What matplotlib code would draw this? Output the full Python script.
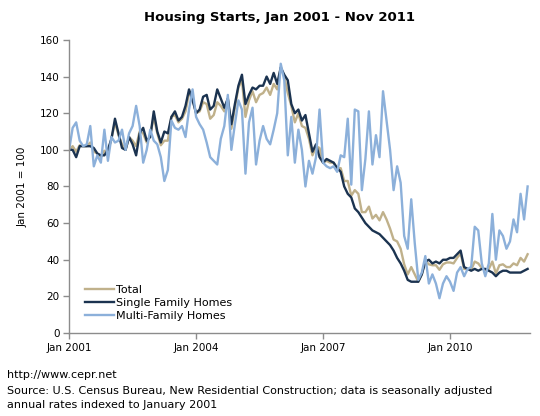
import matplotlib
matplotlib.use('agg')
import matplotlib.pyplot as plt
import numpy as np

# monthly index values, Jan 2001 .. Nov 2011 (Jan 2001 = 100)
single_family = [
    100, 100, 96, 102, 102, 102, 102, 101, 98, 97, 97, 100,      # 2001
    106, 117, 109, 101, 100, 107, 103, 97, 109, 112, 105, 107,   # 2002
    121, 110, 104, 110, 109, 118, 121, 116, 118, 124, 133, 127,  # 2003
    120, 122, 129, 130, 122, 124, 133, 128, 123, 128, 114, 125,  # 2004
    135, 141, 125, 130, 134, 133, 135, 135, 140, 136, 142, 136,  # 2005
    145, 141, 138, 125, 120, 122, 116, 119, 109, 99, 103, 96,    # 2006
    93, 95, 94, 93, 90, 88, 80, 76, 74, 68, 66, 63,              # 2007
    60, 58, 56, 55, 54, 52, 50, 48, 45, 41, 38, 34,              # 2008
    29, 28, 28, 28, 32, 39, 40, 38, 39, 38, 40, 40,              # 2009
    41, 41, 43, 45, 36, 35, 34, 35, 34, 35, 35, 34,              # 2010
    33, 31, 33, 34, 34, 33, 33, 33, 33, 34, 35,                  # 2011
]
multi_family = [
    100, 112, 115, 105, 102, 103, 113, 91, 97, 93, 111, 94,
    107, 104, 105, 111, 100, 109, 113, 124, 113, 93, 100, 111,
    105, 103, 96, 83, 89, 116, 112, 111, 113, 107, 122, 133,
    118, 114, 111, 104, 96, 94, 92, 106, 113, 130, 100, 114,
    127, 122, 87, 115, 123, 92, 105, 113, 106, 103, 111, 120,
    147, 138, 97, 118, 93, 111, 100, 80, 94, 87, 96, 122,
    93, 91, 90, 91, 88, 97, 96, 117, 81, 122, 121, 78,
    95, 121, 92, 108, 96, 132, 116, 100, 78, 91, 82, 53,
    46, 73, 49, 29, 33, 42, 27, 32, 27, 19, 27, 31,
    28, 23, 33, 36, 31, 35, 36, 58, 56, 38, 31, 38,
    65, 40, 56, 53, 46, 50, 62, 55, 76, 62, 80,
]
total = [
    100, 102, 99, 102.5, 102, 102, 104, 99, 98, 96, 99.5, 99,
    106, 115, 108, 103, 100, 107, 105, 102, 110, 109, 104, 108,
    118, 109, 102.5, 105, 105, 118, 119, 115, 117, 121, 131, 128,
    120, 121, 126, 125, 117, 119, 126, 124, 121, 128, 111.5, 123,
    134, 138, 118, 127, 132, 126, 130, 131, 134, 130, 136, 133,
    145, 140, 131, 124, 115, 120, 113, 112, 106, 97, 102, 101,
    93, 94, 93, 93, 90, 90, 83, 83, 75, 78, 76, 66,
    66, 69, 62.5, 64.5, 61.5, 66, 62, 57, 51, 50, 46, 37.5,
    32, 36, 32, 28, 32, 39.5, 37.5, 37, 37, 34.5, 37.5, 38.5,
    38.5, 38, 41, 43.5, 35, 35, 34.5, 39, 38, 35.5, 34.5, 35,
    39, 32.5, 37, 37.5, 36, 36, 38, 37, 41, 39, 43,
]
tick_pos = [0, 36, 72, 108]
tick_labels = ['Jan 2001', 'Jan 2004', 'Jan 2007', 'Jan 2010']

months = np.arange(len(total))

plt.rcParams['font.family'] = ['DejaVu Sans']
axis_grey = '#8c8c8c'

fig = plt.figure(figsize=(5.4, 4.16), dpi=100)
ax = fig.add_axes([0.128, 0.1995, 0.853, 0.7045])

ax.plot(months, total, color='#c0b18b', lw=1.7, label='Total')
ax.plot(months, single_family, color='#1b3350', lw=1.7, label='Single Family Homes')
ax.plot(months, multi_family, color='#8cb0da', lw=1.7, label='Multi-Family Homes')

ax.set_xlim(0, 130.6)
ax.set_ylim(0, 160)
ax.set_yticks(range(0, 161, 20))
ax.set_xticks(tick_pos)
ax.set_xticklabels(tick_labels)

for s in ['top', 'right']:
    ax.spines[s].set_visible(False)
for s in ['left', 'bottom']:
    ax.spines[s].set_color(axis_grey)
    ax.spines[s].set_linewidth(1)
ax.tick_params(axis='both', colors=axis_grey, length=4, width=1, labelsize=7.5,
               labelcolor='black', pad=3)

ax.set_ylabel('Jan 2001 = 100', fontsize=7.5, labelpad=9)

ax.legend(loc='lower left', bbox_to_anchor=(0.025, 0.025), frameon=False,
          fontsize=8, handlelength=2.6, handletextpad=0.15, labelspacing=0.3,
          borderaxespad=0)

fig.text(0.517, 0.958, 'Housing Starts, Jan 2001 - Nov 2011', ha='center', va='center',
         fontsize=9.5, fontweight='bold')
fig.text(0.013, 0.099, 'http://www.cepr.net', fontsize=8, va='center')
fig.text(0.013, 0.060, 'Source: U.S. Census Bureau, New Residential Construction; data is seasonally adjusted',
         fontsize=8, va='center')
fig.text(0.013, 0.026, 'annual rates indexed to January 2001', fontsize=8, va='center')

fig.savefig('out.png', dpi=100)
